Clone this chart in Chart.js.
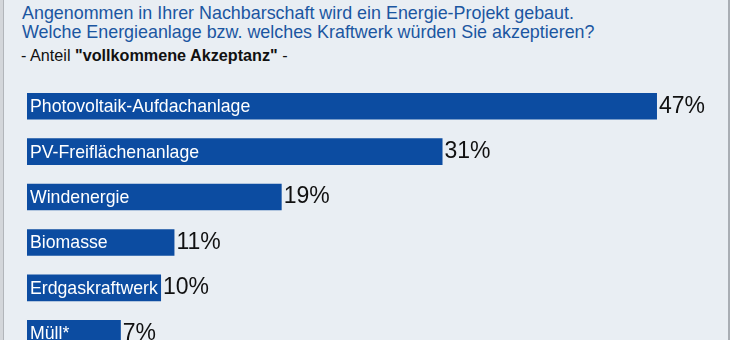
<!DOCTYPE html>
<html lang="de">
<head>
<meta charset="utf-8">
<title>Akzeptanz Energieanlagen</title>
<script src="https://cdn.jsdelivr.net/npm/chart.js@4"></script>
<style>
  html, body { margin: 0; padding: 0; background: #ffffff; }
  #panel {
    position: relative;
    width: 730px;
    height: 340px;
    overflow: hidden;
    background: #e9eef3;
    box-sizing: border-box;
    border-left: 3px solid #d3d6da;
    border-right: 2px solid #a9aeb4;
    font-family: "Liberation Sans", Arial, sans-serif;
  }
  #panel::before {
    content: "";
    position: absolute; left: 0; top: 0; bottom: 0;
    width: 1px; background: #b1b5ba;
  }
  .titel {
    position: absolute; left: 19px; top: 4px;
    color: #1b56a1; font-size: 17.9px; line-height: 19px;
    margin: 0; font-weight: normal; white-space: nowrap;
  }
  .unter {
    position: absolute; left: 18px; top: 46px;
    color: #111; font-size: 16.2px; margin: 0; white-space: nowrap;
  }
  #chartBox {
    position: absolute; left: -3px; top: 0;
    width: 730px; height: 362px;
  }
</style>
</head>
<body>
<div id="panel">
  <h1 class="titel">Angenommen in Ihrer Nachbarschaft wird ein Energie-Projekt gebaut.<br>Welche Energieanlage bzw. welches Kraftwerk würden Sie akzeptieren?</h1>
  <p class="unter">- Anteil <b>"vollkommene Akzeptanz"</b> -</p>
  <div id="chartBox"><canvas id="myChart"></canvas></div>
</div>
<script>
const anlagen = ["Photovoltaik-Aufdachanlage", "PV-Freiflächenanlage", "Windenergie", "Biomasse", "Erdgaskraftwerk", "Müll*"];
const akzeptanz = [47, 31, 19, 11, 10, 7];
const balkenFarbe = "#0c4ca1";

// Beschriftung: Name weiss im Balken, Prozentwert schwarz dahinter
const balkenText = {
    id: "balkenText",
    afterDatasetsDraw(chart) {
        const ctx = chart.ctx;
        const meta = chart.getDatasetMeta(0);
        ctx.save();
        ctx.textBaseline = "middle";
        meta.data.forEach(function(bar, i) {
            ctx.fillStyle = "#ffffff";
            ctx.font = '17.7px "Liberation Sans", Arial, sans-serif';
            ctx.textAlign = "left";
            ctx.fillText(anlagen[i], bar.base + 3, bar.y + 1);
            ctx.fillStyle = "#111111";
            ctx.font = '23px "Liberation Sans", Arial, sans-serif';
            ctx.fillText(akzeptanz[i] + "%", bar.x + 2, bar.y);
        });
        ctx.restore();
    }
};

const config = {
    type: "bar",
    data: {
        labels: anlagen,
        datasets: [{
            data: akzeptanz,
            backgroundColor: balkenFarbe,
            categoryPercentage: 1,
            barPercentage: 0.585
        }]
    },
    options: {
        indexAxis: "y",
        responsive: true,
        maintainAspectRatio: false,
        animation: false,
        layout: { padding: { left: 27, right: 6, top: 83.5, bottom: 6 } },
        scales: {
            x: { display: false, min: 0, max: 52 },
            y: { display: false }
        },
        plugins: {
            legend: { display: false },
            tooltip: { enabled: false }
        }
    },
    plugins: [balkenText]
};

const myChart = document.getElementById("myChart");
new Chart(myChart, config);
</script>
</body>
</html>
